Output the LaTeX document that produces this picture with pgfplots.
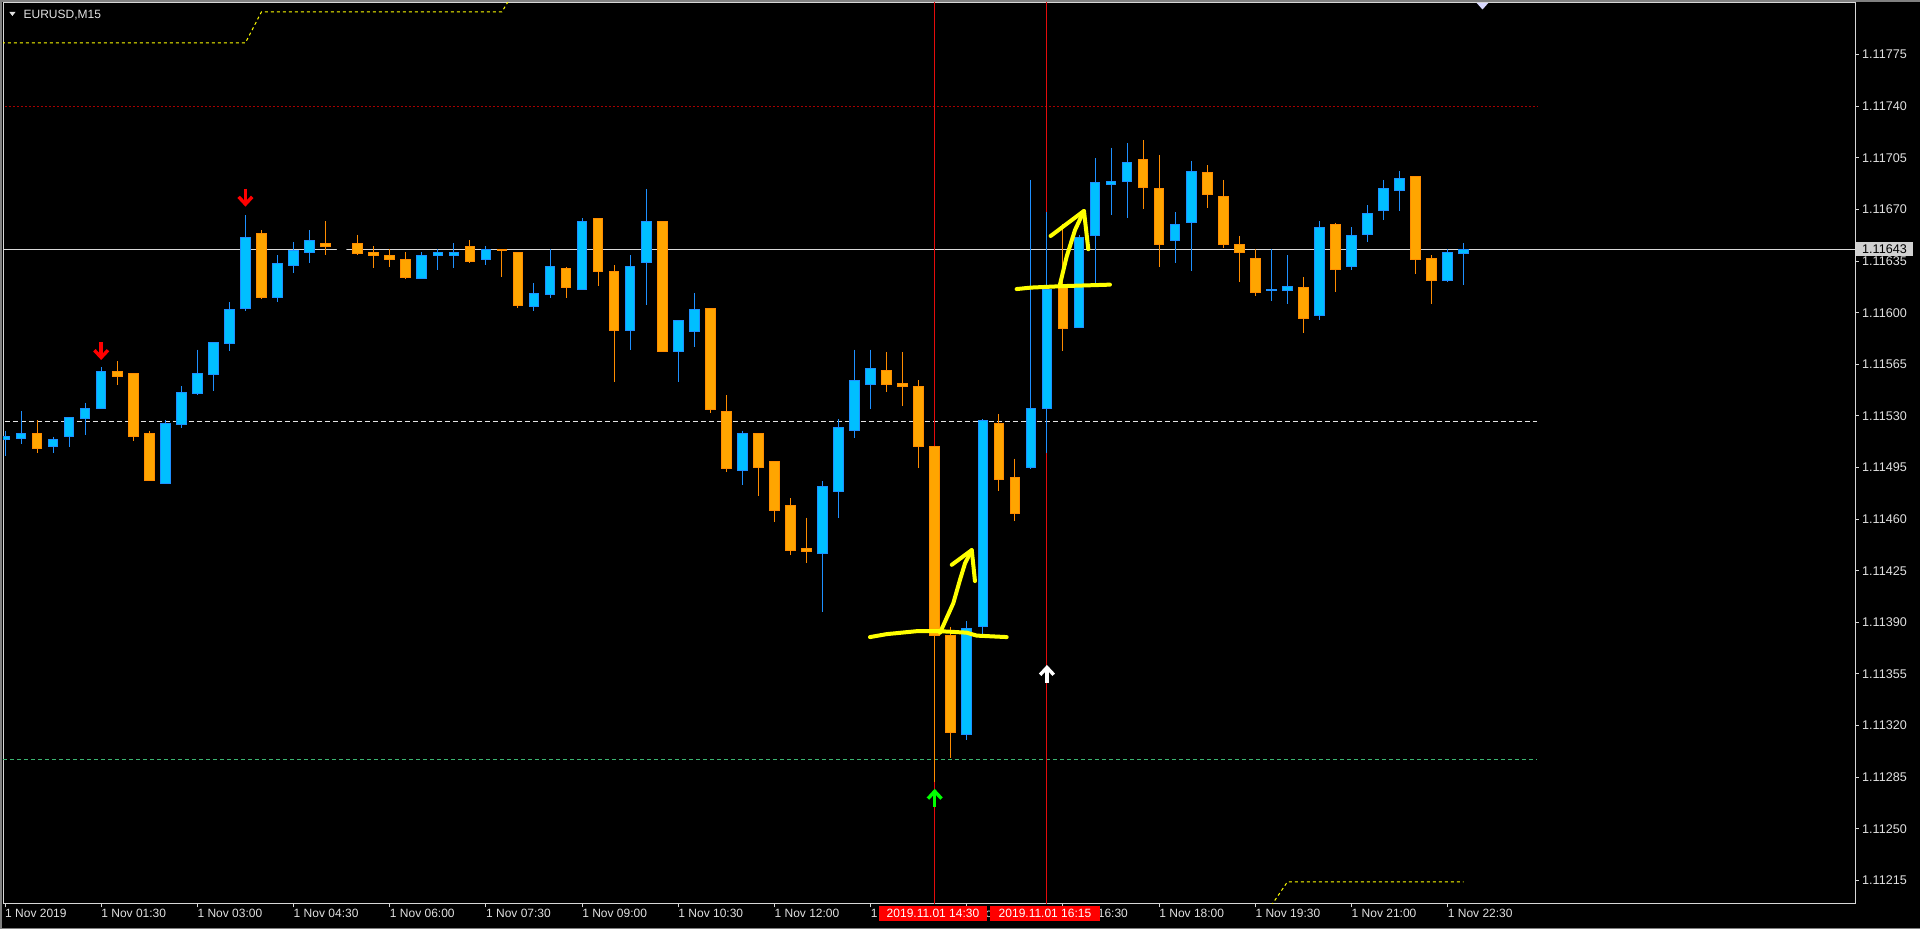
\documentclass[border=0pt]{standalone}
\usepackage{pgfplots}
\pgfplotsset{compat=1.18}
\usepackage{pgfplotstable}
\usepackage{fontspec}
\setmainfont{Liberation Sans}
\definecolor{blfill}{RGB}{0,191,255}
\definecolor{bledge}{RGB}{30,144,255}
\definecolor{orfill}{RGB}{255,165,0}
\definecolor{oredge}{RGB}{255,140,0}
\definecolor{fg}{RGB}{225,225,225}
\definecolor{framec}{RGB}{215,215,215}
\definecolor{vred}{RGB}{228,12,12}
\definecolor{lvred}{RGB}{165,0,0}
\definecolor{lvgreen}{RGB}{60,179,113}
\definecolor{yel}{RGB}{255,255,0}
\definecolor{arrgreen}{RGB}{0,255,0}

% price -> units of 0.00001 above 1.11000, keeping all digits (string based)
\makeatletter
\def\mtpad#1#2#3#4\relax{#1#2#3}
\def\mtstripM#1.11#2\relax{#2}
\def\mttrafo#1{%
  \edef\mttmp{#1}%
  \pgfutil@in@{Y}{\mttmp}%
  \ifpgfutil@in@
    \let\mtfl\mttmp
  \else
    \pgfmathfloatparsenumber{\mttmp}\let\mtfl\pgfmathresult
  \fi
  \pgfmathfloattomacro{\mtfl}{\mtF}{\mtM}{\mtE}%
  \ifnum\mtE=0\relax
    \edef\mtR{\expandafter\mtstripM\mtM\relax}%
    \edef\pgfmathresult{\expandafter\mtpad\mtR000\relax}%
  \else
    \let\pgfmathresult\mtfl
  \fi
}
\makeatother

\pgfdeclareplotmark{mtdown}{%
  \pgfsetlinewidth{3.4bp}\pgfsetbuttcap\pgfsetmiterjoin
  \pgfpathmoveto{\pgfpoint{0bp}{9bp}}\pgfpathlineto{\pgfpoint{0bp}{-4bp}}\pgfusepathqstroke
  \pgfpathmoveto{\pgfpoint{-6.8bp}{0.8bp}}\pgfpathlineto{\pgfpoint{0bp}{-6.5bp}}\pgfpathlineto{\pgfpoint{6.8bp}{0.8bp}}\pgfusepathqstroke
}
\pgfdeclareplotmark{mtup}{%
  \pgfsetlinewidth{3.4bp}\pgfsetbuttcap\pgfsetmiterjoin
  \pgfpathmoveto{\pgfpoint{0bp}{-9bp}}\pgfpathlineto{\pgfpoint{0bp}{4bp}}\pgfusepathqstroke
  \pgfpathmoveto{\pgfpoint{-6.8bp}{-0.8bp}}\pgfpathlineto{\pgfpoint{0bp}{6.5bp}}\pgfpathlineto{\pgfpoint{6.8bp}{-0.8bp}}\pgfusepathqstroke
}

% i open high low close dir(1 up, 0 down, 2 doji)
\pgfplotstableread{
i o h l c d
0 1.11514 1.11520 1.11503 1.11516 1
1 1.11515 1.11533 1.11511 1.11518 1
2 1.11518 1.11527 1.11505 1.11508 0
3 1.11509 1.11516 1.11505 1.11514 1
4 1.11516 1.11529 1.11509 1.11529 1
5 1.11528 1.11539 1.11517 1.11535 1
6 1.11535 1.11563 1.11535 1.11560 1
7 1.11560 1.11567 1.11551 1.11557 0
8 1.11559 1.11559 1.11513 1.11516 0
9 1.11518 1.11520 1.11486 1.11486 0
10 1.11484 1.11527 1.11484 1.11525 1
11 1.11524 1.11550 1.11522 1.11546 1
12 1.11545 1.11575 1.11544 1.11559 1
13 1.11558 1.11580 1.11547 1.11580 1
14 1.11579 1.11607 1.11574 1.11602 1
15 1.11603 1.11666 1.11601 1.11651 1
16 1.11654 1.11656 1.11609 1.11610 0
17 1.11610 1.11639 1.11607 1.11633 1
18 1.11632 1.11648 1.11627 1.11642 1
19 1.11641 1.11656 1.11634 1.11649 1
20 1.11647 1.11662 1.11639 1.11645 0
21 1.11643 1.11644 1.11642 1.11643 2
22 1.11647 1.11653 1.11639 1.11640 0
23 1.11641 1.11645 1.11630 1.11639 0
24 1.11639 1.11643 1.11631 1.11636 0
25 1.11636 1.11641 1.11623 1.11624 0
26 1.11623 1.11641 1.11623 1.11639 1
27 1.11639 1.11643 1.11629 1.11641 1
28 1.11639 1.11647 1.11630 1.11641 1
29 1.11645 1.11649 1.11634 1.11635 0
30 1.11636 1.11645 1.11632 1.11643 1
31 1.11643 1.11643 1.11624 1.11642 0
32 1.11641 1.11641 1.11603 1.11605 0
33 1.11604 1.11620 1.11601 1.11613 1
34 1.11612 1.11643 1.11610 1.11631 1
35 1.11630 1.11631 1.11610 1.11617 0
36 1.11616 1.11664 1.11616 1.11662 1
37 1.11664 1.11664 1.11618 1.11628 0
38 1.11628 1.11632 1.11553 1.11588 0
39 1.11588 1.11639 1.11575 1.11631 1
40 1.11634 1.11684 1.11605 1.11662 1
41 1.11662 1.11662 1.11573 1.11574 0
42 1.11574 1.11595 1.11553 1.11595 1
43 1.11587 1.11613 1.11577 1.11602 1
44 1.11603 1.11603 1.11532 1.11534 0
45 1.11533 1.11544 1.11492 1.11494 0
46 1.11493 1.11520 1.11483 1.11518 1
47 1.11518 1.11518 1.11476 1.11495 0
48 1.11499 1.11499 1.11458 1.11466 0
49 1.11469 1.11474 1.11436 1.11439 0
50 1.11440 1.11461 1.11430 1.11438 0
51 1.11437 1.11486 1.11397 1.11482 1
52 1.11479 1.11528 1.11461 1.11522 1
53 1.11520 1.11575 1.11515 1.11554 1
54 1.11551 1.11575 1.11535 1.11562 1
55 1.11561 1.11573 1.11546 1.11551 0
56 1.11552 1.11573 1.11537 1.11550 0
57 1.11550 1.11554 1.11495 1.11509 0
58 1.11509 1.11509 1.11282 1.11381 0
59 1.11381 1.11387 1.11298 1.11315 0
60 1.11314 1.11391 1.11310 1.11386 1
61 1.11387 1.11528 1.11382 1.11527 1
62 1.11525 1.11531 1.11479 1.11487 0
63 1.11488 1.11501 1.11459 1.11464 0
64 1.11495 1.11690 1.11494 1.11535 1
65 1.11535 1.11668 1.11505 1.11616 1
66 1.11618 1.11660 1.11574 1.11589 0
67 1.11590 1.11653 1.11590 1.11651 1
68 1.11652 1.11705 1.11620 1.11688 1
69 1.11687 1.11712 1.11666 1.11689 1
70 1.11689 1.11715 1.11664 1.11702 1
71 1.11704 1.11717 1.11670 1.11685 0
72 1.11684 1.11707 1.11631 1.11646 0
73 1.11649 1.11668 1.11634 1.11660 1
74 1.11661 1.11703 1.11628 1.11696 1
75 1.11695 1.11700 1.11671 1.11680 0
76 1.11679 1.11690 1.11644 1.11646 0
77 1.11646 1.11652 1.11621 1.11641 0
78 1.11637 1.11643 1.11611 1.11614 0
79 1.11615 1.11643 1.11608 1.11616 1
80 1.11615 1.11639 1.11606 1.11618 1
81 1.11617 1.11624 1.11586 1.11596 0
82 1.11598 1.11662 1.11595 1.11658 1
83 1.11660 1.11661 1.11614 1.11629 0
84 1.11631 1.11658 1.11629 1.11652 1
85 1.11653 1.11673 1.11648 1.11667 1
86 1.11669 1.11690 1.11663 1.11684 1
87 1.11683 1.11696 1.11669 1.11691 1
88 1.11692 1.11692 1.11626 1.11636 0
89 1.11637 1.11639 1.11606 1.11622 0
90 1.11622 1.11643 1.11621 1.11641 1
91 1.11640 1.11647 1.11619 1.11643 1
}\candles

\begin{document}
\begin{tikzpicture}
\useasboundingbox (0,0) rectangle (1920bp,929bp);
\fill[black] (0,0) rectangle (1920bp,929bp);
\fill[gray] (0,927bp) rectangle (1920bp,929bp);
\fill[gray] (0,0) rectangle (1.6bp,929bp);
\fill[gray] (0,0) rectangle (1920bp,1.2bp);
\begin{axis}[
  at={(3bp,25bp)}, anchor=south west,
  scale only axis, width=1852bp, height=901bp,
  xmin=-0.125, xmax=115.41,
  y coord trafo/.code={\mttrafo{#1}},
  ymin=1.11199, ymax=1.11810,
  axis line style={framec, line width=1bp},
  tick align=outside, major tick length=3.5bp,
  tick style={framec, line width=1bp},
  xtick pos=left, ytick pos=right, yticklabel pos=right,
  tick label style={text=fg, font=\fontsize{12bp}{14bp}\selectfont},
  xtick={0,6,...,90},
  xticklabels={1 Nov 2019,1 Nov 01:30,1 Nov 03:00,1 Nov 04:30,1 Nov 06:00,1 Nov 07:30,1 Nov 09:00,1 Nov 10:30,1 Nov 12:00,1 Nov 13:30,1 Nov 15:00,1 Nov 16:30,1 Nov 18:00,1 Nov 19:30,1 Nov 21:00,1 Nov 22:30},
  xticklabel style={anchor=north west, inner sep=0pt, yshift=-1bp},
  ytick={1.11775,1.11740,1.11705,1.11670,1.11635,1.11600,1.11565,1.11530,1.11495,1.11460,1.11425,1.11390,1.11355,1.11320,1.11285,1.11250,1.11215},
  yticklabels={1.11775,1.11740,1.11705,1.11670,1.11635,1.11600,1.11565,1.11530,1.11495,1.11460,1.11425,1.11390,1.11355,1.11320,1.11285,1.11250,1.11215},
  yticklabel style={anchor=west, inner xsep=3.5bp, inner ysep=0pt, font=\fontsize{12.6bp}{14bp}\selectfont},
  extra y ticks={1.11643}, extra y tick labels={1.11643},
  extra y tick style={yticklabel style={fill=white!82!black, text=black, inner xsep=6bp, inner ysep=2.6bp, xshift=-2.5bp}},
  clip=true,
]
% level lines
\addplot[lvred, line width=1bp, dash pattern=on 2bp off 2bp] coordinates {(-1,1.11740) (95.6,1.11740)};
\addplot[white!90!black, line width=1bp, dash pattern=on 5bp off 3bp] coordinates {(-1,1.11526) (95.6,1.11526)};
\addplot[lvgreen, line width=1bp, dash pattern=on 4bp off 3bp] coordinates {(-1,1.11297) (95.6,1.11297)};
\addplot[white!85!black, line width=1bp] coordinates {(-1,1.11643) (120,1.11643)};
% yellow stepped dotted lines
\addplot[yel, line width=1bp, dash pattern=on 3bp off 3bp] coordinates {(-0.2,1.11783) (15,1.11783) (16,1.11804) (31,1.11804) (32,1.11822)};
\addplot[yel, line width=1bp, dash pattern=on 3bp off 3bp] coordinates {(79,1.11198) (80,1.11214) (91,1.11214)};
% vertical lines
\addplot[vred, line width=1bp] coordinates {(58,1.11150) (58,1.11850)};
\addplot[vred, line width=1bp] coordinates {(65,1.11150) (65,1.11850)};
% candles
\pgfplotsinvokeforeach{0,...,91}{%
  \pgfplotstablegetelem{#1}{o}\of\candles\let\mtO\pgfplotsretval
  \pgfplotstablegetelem{#1}{h}\of\candles\let\mtH\pgfplotsretval
  \pgfplotstablegetelem{#1}{l}\of\candles\let\mtL\pgfplotsretval
  \pgfplotstablegetelem{#1}{c}\of\candles\let\mtC\pgfplotsretval
  \pgfplotstablegetelem{#1}{d}\of\candles\let\mtD\pgfplotsretval
  \pgfmathsetmacro\mtXL{#1-0.30}%
  \pgfmathsetmacro\mtXR{#1+0.30}%
  \ifcase\mtD\relax
    \def\mtB{orfill}\def\mtE{oredge}%
  \or
    \def\mtB{blfill}\def\mtE{bledge}%
  \else
    \def\mtB{black}\def\mtE{black}%
  \fi
  \edef\mtdo{%
    \noexpand\addplot[draw=\mtE, line width=1bp] coordinates {(#1,\mtH) (#1,\mtL)};
    \noexpand\addplot[draw=\mtE, fill=\mtB, line width=1bp] coordinates {(\mtXL,\mtO) (\mtXR,\mtO) (\mtXR,\mtC) (\mtXL,\mtC)} --cycle;
  }\mtdo
}
% signal arrows
\addplot[only marks, mark=mtdown, mark options={draw=red}] coordinates {(6,1.11574) (15,1.11678)};
\addplot[only marks, mark=mtup, mark options={draw=arrgreen}] coordinates {(58,1.11271)};
\addplot[only marks, mark=mtup, mark options={draw=white}] coordinates {(65,1.11355)};
% hand-drawn yellow annotations
\addplot[yel, line width=4bp, line cap=round, line join=round] coordinates {(53.96,1.11380) (55.0,1.11382) (56.87,1.11384) (58.33,1.11384) (59.99,1.11383) (60.62,1.11381) (62.49,1.11380)};
\addplot[yel, line width=4bp, line cap=round, line join=round] coordinates {(58.33,1.11383) (59.16,1.11403) (59.58,1.11419) (59.89,1.11430) (60.31,1.11439)};
\addplot[yel, line width=4bp, line cap=round, line join=round] coordinates {(59.06,1.11429) (60.31,1.11439) (60.51,1.11418)};
\addplot[yel, line width=4bp, line cap=round, line join=round] coordinates {(63.11,1.11616) (64.0,1.11617) (66.0,1.11618) (68.93,1.11619)};
\addplot[yel, line width=4bp, line cap=round, line join=round] coordinates {(65.81,1.11619) (66.23,1.11638) (66.75,1.11656) (67.31,1.11669)};
\addplot[yel, line width=4bp, line cap=round, line join=round] coordinates {(65.23,1.11652) (67.31,1.11669) (67.58,1.11643)};
\end{axis}
% time labels of the vertical lines
\node[fill=red, text=white, inner sep=0pt, minimum width=108bp, minimum height=15bp, font=\fontsize{12bp}{14bp}\selectfont] at (933bp,15.5bp) {2019.11.01 14:30};
\node[fill=red, text=white, inner sep=0pt, minimum width=110bp, minimum height=15bp, font=\fontsize{12bp}{14bp}\selectfont] at (1045bp,15.5bp) {2019.11.01 16:15};
% chart title
\fill[fg] (9.3bp,917bp) -- (15.5bp,917bp) -- (12.4bp,913bp) -- cycle;
\node[anchor=base west, inner sep=0pt, text=fg, font=\fontsize{12bp}{14bp}\selectfont] at (23.4bp,910bp) {EURUSD,M15};
% chart shift marker
\fill[white!85!blue] (1476.7bp,926bp) -- (1488.3bp,926bp) -- (1482.5bp,919.5bp) -- cycle;
\end{tikzpicture}
\end{document}
